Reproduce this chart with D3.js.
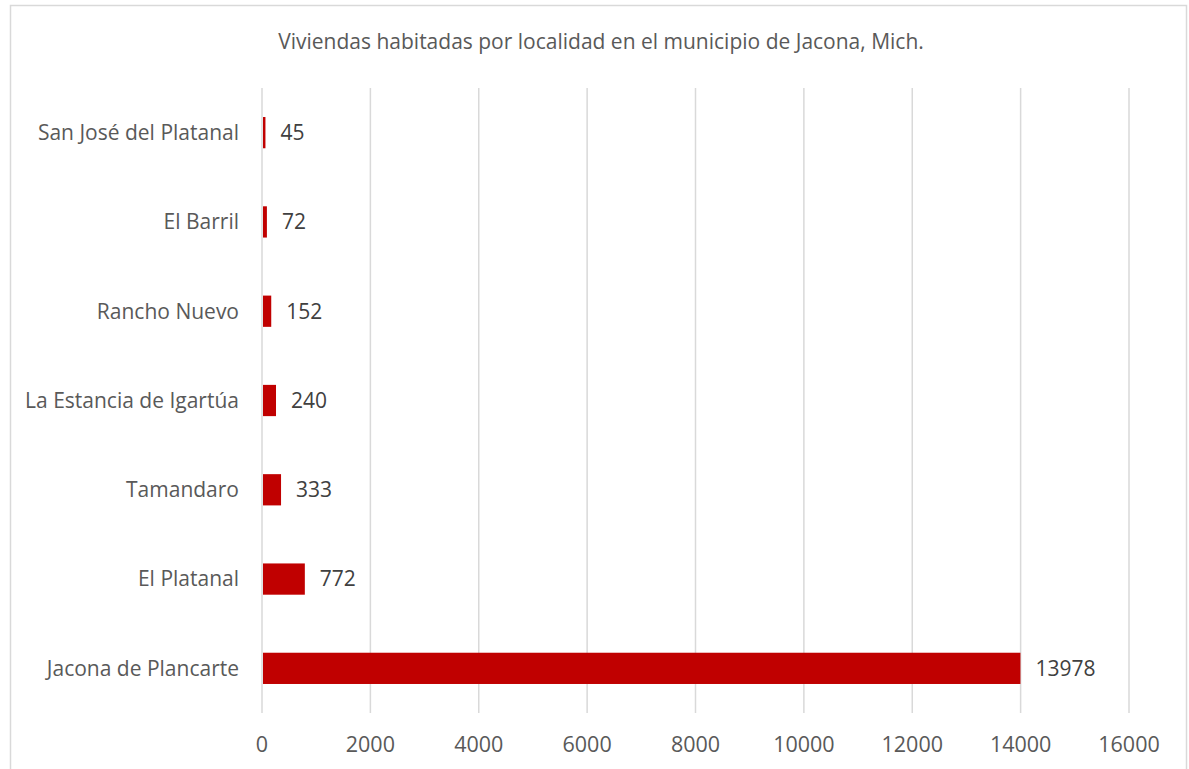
<!DOCTYPE html>
<html>
<head>
<meta charset="utf-8">
<script src="https://cdn.jsdelivr.net/npm/d3@7"></script>
<style>
  body { margin: 0; background: #fff; }
  svg text { font-family: "Open Sans", "Noto Sans", sans-serif; }
</style>
</head>
<body>
<div id="chart"></div>
<script>
// localidades, from bottom to top as in the chart
var localidades = ['Jacona de Plancarte', 'El Platanal', 'Tamandaro', 'La Estancia de Igartúa',
  'Rancho Nuevo', 'El Barril', 'San José del Platanal'];
var viviendas = [13978, 772, 333, 240, 152, 72, 45];
var ticks = [0, 2000, 4000, 6000, 8000, 10000, 12000, 14000, 16000];
var titulo = 'Viviendas habitadas por localidad en el municipio de Jacona, Mich.';

const width = 1189;
const height = 769;
const margin = { top: 88, right: 60, bottom: 56, left: 262 };

var data = localidades.map((d, i) => ({ name: d, value: viviendas[i] }));

var svg = d3.select('#chart')
  .append('svg')
  .attr('width', width)
  .attr('height', height);

// chart border
svg.append('rect')
  .attr('x', 10.5)
  .attr('y', 5.5)
  .attr('width', 1176)
  .attr('height', 800)
  .attr('fill', 'none')
  .attr('stroke', '#d9d9d9')
  .attr('stroke-width', 1.5);

var x = d3.scaleLinear()
  .domain([0, 16000])
  .range([margin.left, 1129]);

// first category at the bottom
var y = d3.scaleBand()
  .domain(localidades.slice().reverse())
  .range([margin.top, height - margin.bottom])
  .paddingInner(0.65)
  .paddingOuter(0.325);

// title
svg.append('text')
  .attr('x', 601)
  .attr('y', 42)
  .attr('dy', '0.35em')
  .attr('text-anchor', 'middle')
  .attr('fill', '#595959')
  .style('font-size', '21px')
  .text(titulo);

// vertical gridlines
svg.append('g')
  .selectAll('line')
  .data(ticks)
  .enter()
  .append('line')
  .attr('x1', d => x(d))
  .attr('x2', d => x(d))
  .attr('y1', margin.top)
  .attr('y2', height - margin.bottom)
  .attr('stroke', '#d9d9d9')
  .attr('stroke-width', 1.5);

// x tick labels
svg.append('g')
  .selectAll('text')
  .data(ticks)
  .enter()
  .append('text')
  .attr('x', d => x(d))
  .attr('y', 744)
  .attr('dy', '0.35em')
  .attr('text-anchor', 'middle')
  .attr('fill', '#595959')
  .style('font-size', '21.5px')
  .text(d => d);

// category labels
svg.append('g')
  .selectAll('text')
  .data(data)
  .enter()
  .append('text')
  .attr('x', 239)
  .attr('y', d => y(d.name) + y.bandwidth() / 2)
  .attr('dy', '0.35em')
  .attr('text-anchor', 'end')
  .attr('fill', '#595959')
  .style('font-size', '21px')
  .text(d => d.name);

// bars
svg.append('g')
  .selectAll('rect')
  .data(data)
  .enter()
  .append('rect')
  .attr('x', x(0) + 1)
  .attr('y', d => y(d.name))
  .attr('width', d => x(d.value) - x(0))
  .attr('height', y.bandwidth())
  .attr('fill', '#c00000');

// value labels
svg.append('g')
  .selectAll('text')
  .data(data)
  .enter()
  .append('text')
  .attr('x', d => x(d.value) + 16)
  .attr('y', d => y(d.name) + y.bandwidth() / 2)
  .attr('dy', '0.35em')
  .attr('fill', '#404040')
  .style('font-size', '21px')
  .text(d => d.value);
</script>
</body>
</html>
